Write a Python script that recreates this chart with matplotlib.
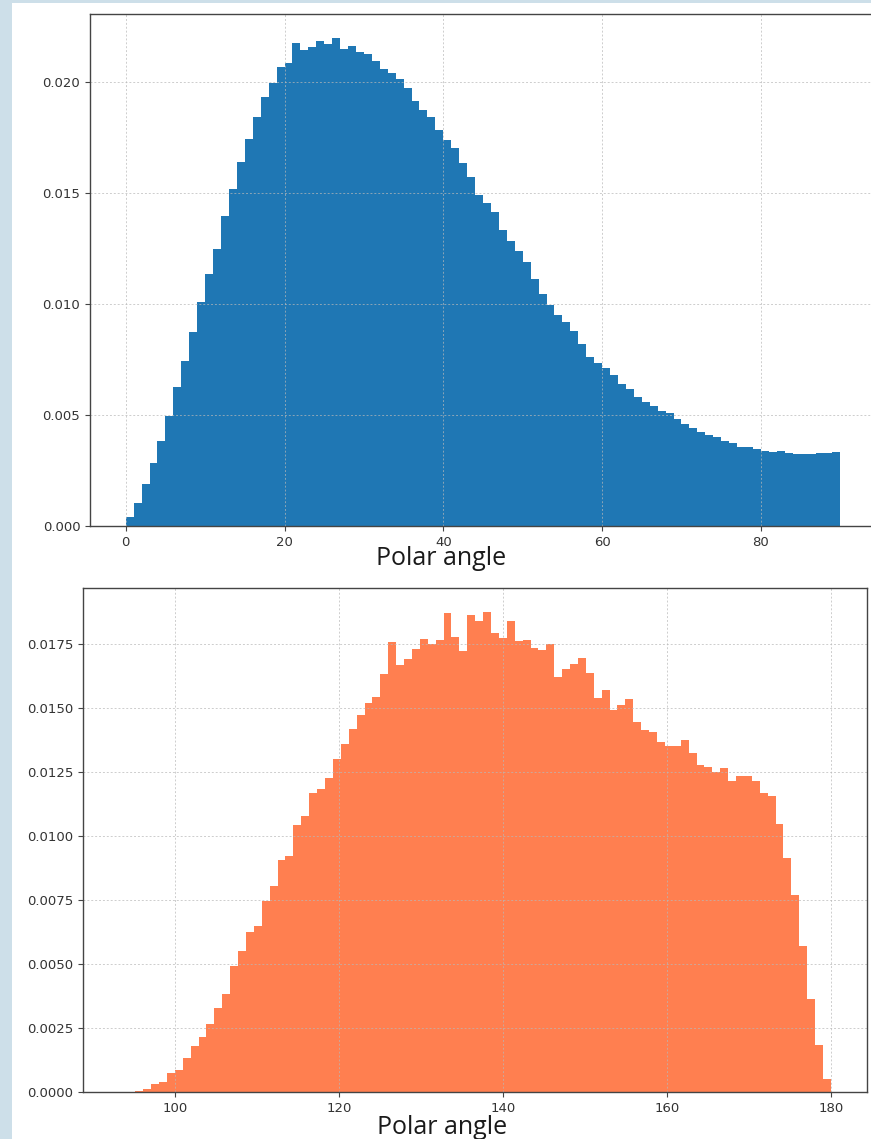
import numpy as np
import matplotlib.pyplot as plt

# normalised histogram heights
top_edges = np.arange(0, 91, 1)
top_density = [
    0.00042, 0.00105, 0.00189, 0.00282, 0.00384, 0.00495, 0.00628, 0.00745, 0.00875, 0.01010,
    0.01135, 0.01246, 0.01398, 0.01517, 0.01638, 0.01742, 0.01844, 0.01934, 0.01997, 0.02069,
    0.02084, 0.02175, 0.02144, 0.02159, 0.02186, 0.02171, 0.02197, 0.02149, 0.02164, 0.02137,
    0.02125, 0.02095, 0.02059, 0.02039, 0.02015, 0.01972, 0.01915, 0.01874, 0.01841, 0.01784,
    0.01739, 0.01701, 0.01634, 0.01574, 0.01491, 0.01457, 0.01416, 0.01333, 0.01285, 0.01240,
    0.01191, 0.01113, 0.01044, 0.00996, 0.00950, 0.00917, 0.00880, 0.00818, 0.00763, 0.00733,
    0.00713, 0.00680, 0.00640, 0.00617, 0.00583, 0.00557, 0.00542, 0.00520, 0.00508, 0.00482,
    0.00459, 0.00440, 0.00422, 0.00410, 0.00402, 0.00384, 0.00372, 0.00357, 0.00354, 0.00347,
    0.00339, 0.00335, 0.00338, 0.00330, 0.00324, 0.00324, 0.00324, 0.00330, 0.00327, 0.00332,
]

bottom_edges = np.linspace(93.25, 180.0, 91)
bottom_density = [
    0.00000, 0.00001, 0.00004, 0.00013, 0.00030, 0.00040, 0.00075, 0.00087, 0.00134, 0.00178,
    0.00214, 0.00266, 0.00327, 0.00383, 0.00493, 0.00549, 0.00626, 0.00649, 0.00744, 0.00805,
    0.00905, 0.00922, 0.01041, 0.01077, 0.01168, 0.01184, 0.01227, 0.01301, 0.01360, 0.01418,
    0.01470, 0.01520, 0.01542, 0.01630, 0.01758, 0.01666, 0.01690, 0.01728, 0.01769, 0.01748,
    0.01764, 0.01870, 0.01778, 0.01722, 0.01863, 0.01838, 0.01874, 0.01793, 0.01772, 0.01838,
    0.01761, 0.01766, 0.01735, 0.01725, 0.01750, 0.01622, 0.01650, 0.01670, 0.01693, 0.01636,
    0.01537, 0.01569, 0.01493, 0.01509, 0.01533, 0.01445, 0.01412, 0.01404, 0.01367, 0.01352,
    0.01352, 0.01373, 0.01322, 0.01277, 0.01267, 0.01249, 0.01263, 0.01215, 0.01233, 0.01233,
    0.01215, 0.01167, 0.01154, 0.01048, 0.00912, 0.00768, 0.00570, 0.00362, 0.00185, 0.00052,
]

W, H = 871, 1139
fig = plt.figure(figsize=(W / 100, H / 100), dpi=100)
fig.patch.set_facecolor('#cddfe9')
fig.add_artist(plt.Rectangle((12 / W, 0), 1, (H - 3) / H, transform=fig.transFigure,
                             facecolor='white', edgecolor='none', zorder=0))


def style(ax):
    ax.grid(True, linestyle=(0, (2, 2)), color='#b8b8b8', linewidth=0.7, alpha=0.7)
    for s in ax.spines.values():
        s.set_color('#444444')
        s.set_linewidth(1.0)
    ax.tick_params(labelsize=9.5, labelcolor='#333333', color='#444444', length=3.5)


ax1 = fig.add_axes([90 / W, (H - 526) / H, 786 / W, 512 / H])
ax1.hist(top_edges[:-1], bins=top_edges, weights=top_density, histtype='stepfilled',
         color='#1f77b4')
ax1.set_xlim(-4.5, 94.5)
ax1.set_ylim(0, max(top_density) * 1.05)
ax1.set_xticks([0, 20, 40, 60, 80])
ax1.set_yticks([0, 0.005, 0.010, 0.015, 0.020])
ax1.set_yticklabels(['0.000', '0.005', '0.010', '0.015', '0.020'])
style(ax1)

ax2 = fig.add_axes([83 / W, (H - 1092) / H, 784 / W, 504 / H])
ax2.hist(bottom_edges[:-1], bins=bottom_edges, weights=bottom_density, histtype='stepfilled',
         color='coral')
ax2.set_xlim(88.8, 184.4)
ax2.set_ylim(0, max(bottom_density) * 1.05)
ax2.set_xticks([100, 120, 140, 160, 180])
yt = np.arange(0, 0.0176, 0.0025)
ax2.set_yticks(yt)
ax2.set_yticklabels(['%.4f' % v for v in yt])
style(ax2)

fig.text(441 / W, 1 - 558 / H, 'Polar angle', ha='center', va='center',
         fontsize=18, family='Open Sans', color='#1a1a1a')
fig.text(442 / W, 1 - 1127 / H, 'Polar angle', ha='center', va='center',
         fontsize=18, family='Open Sans', color='#1a1a1a')

fig.savefig('out.png', dpi=100, facecolor=fig.get_facecolor())
